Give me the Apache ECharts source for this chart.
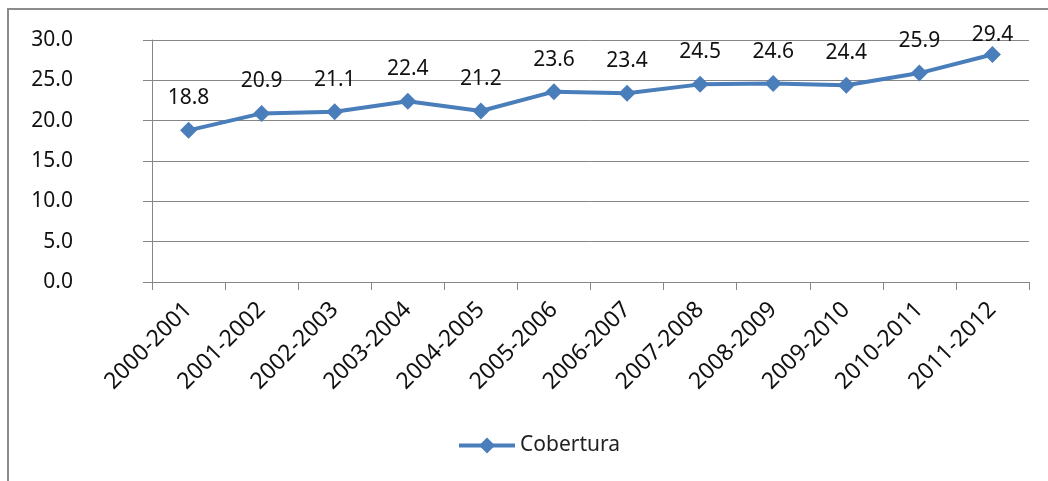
<!DOCTYPE html>
<html lang="en">
<head>
    <meta charset="UTF-8">
    <title>Cobertura</title>
    <script src="https://cdn.jsdelivr.net/npm/echarts@6/dist/echarts.min.js"></script>
    <style>
        html, body { margin: 0; padding: 0; background: #fff; }
        #chart { width: 1048px; height: 481px; }
    </style>
</head>
<body>
<div id="chart"></div>
<script>
    var categories = ['2000-2001', '2001-2002', '2002-2003', '2003-2004', '2004-2005', '2005-2006',
        '2006-2007', '2007-2008', '2008-2009', '2009-2010', '2010-2011', '2011-2012'];
    // plotted positions (last point sits lower than its label)
    var cobertura = [18.8, 20.9, 21.1, 22.4, 21.2, 23.6, 23.4, 24.5, 24.6, 24.4, 25.9, 28.2];
    // data labels as printed
    var etiquetas = ['18.8', '20.9', '21.1', '22.4', '21.2', '23.6', '23.4', '24.5', '24.6', '24.4', '25.9', '29.4'];

    var font = 'Noto Sans';
    var myChart = echarts.init(document.getElementById('chart'));

    // the last label is squeezed down against the top of the plot
    var seriesData = cobertura.map(function (v, i) {
        if (i === cobertura.length - 1) {
            return {value: v, label: {distance: 1}};
        }
        return v;
    });

    var option = {
        animation: false,
        backgroundColor: '#fff',
        graphic: [{
            type: 'rect',
            shape: {x: 8, y: 9, width: 1060, height: 490},
            style: {fill: 'none', stroke: '#8c8c8c', lineWidth: 2}
        }],
        grid: {left: 152, right: 19, top: 40, bottom: 199},
        legend: {
            data: ['Cobertura'],
            top: 430,
            left: 452,
            itemWidth: 56,
            itemHeight: 20,
            itemGap: 6,
            lineStyle: {width: 4},
            textStyle: {fontFamily: font, fontSize: 21, color: '#222'}
        },
        xAxis: {
            type: 'category',
            data: categories,
            boundaryGap: true,
            axisLine: {lineStyle: {color: '#868686', width: 1}},
            axisTick: {show: true, length: 8, lineStyle: {color: '#868686'}},
            axisLabel: {
                rotate: 45, interval: 0, margin: 24,
                fontFamily: font, fontSize: 23, color: '#111'
            }
        },
        yAxis: {
            type: 'value',
            min: 0, max: 30, interval: 5,
            axisLine: {show: true, lineStyle: {color: '#868686'}},
            axisTick: {show: true, length: 9, inside: false, lineStyle: {color: '#868686'}},
            splitLine: {lineStyle: {color: '#868686', width: 1}},
            axisLabel: {
                margin: 79, fontFamily: font, fontSize: 21, color: '#111',
                formatter: function (v) { return v.toFixed(1); }
            }
        },
        series: [{
            name: 'Cobertura',
            type: 'line',
            data: seriesData,
            symbol: 'diamond',
            symbolSize: 17,
            lineStyle: {color: '#4a7ebb', width: 4},
            itemStyle: {color: '#4a7ebb'},
            label: {
                show: true,
                position: 'top',
                distance: 13,
                fontFamily: font,
                fontSize: 21,
                color: '#111',
                formatter: function (p) { return etiquetas[p.dataIndex]; }
            }
        }]
    };
    myChart.setOption(option);
</script>
</body>
</html>
